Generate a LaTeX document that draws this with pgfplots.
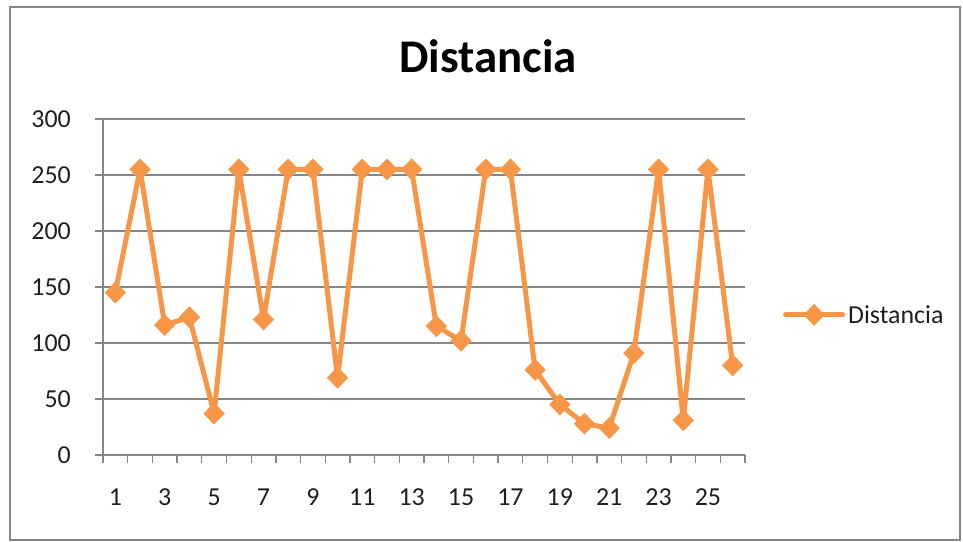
\documentclass[border=0pt]{standalone}
\usepackage{pgfplots}
\pgfplotsset{compat=1.18}
\usepackage{fontspec}
\setmainfont{Carlito}
\definecolor{exorange}{HTML}{F79646}
\definecolor{exgray}{HTML}{868686}
\begin{document}
\begin{tikzpicture}[x=1bp,y=1bp]
\path (0,0) rectangle (963,542);
\draw[exgray, line width=1.5bp] (10,2) rectangle (960,535);
\node[anchor=base, font=\bfseries\fontsize{47}{56}\selectfont] at (488,469) {Distancia};
\begin{axis}[
  at={(103bp,87bp)}, anchor=south west, scale only axis,
  width=642bp, height=336bp,
  xmin=0.5, xmax=26.5, ymin=0, ymax=300,
  axis lines*=left,
  axis line style={exgray, line width=1.3bp},
  ytick={0,50,...,300},
  ymajorgrids, grid style={exgray, line width=1.3bp},
  xtick={0.5,1.5,...,26.5}, xticklabels={},
  extra x ticks={1,3,...,25},
  extra x tick style={major tick length=0pt, grid=none},
  tick align=outside, major tick length=8bp,
  tick style={exgray, line width=1.3bp},
  /pgf/number format/assume math mode=true,
  tick label style={font=\fontsize{26}{31}\selectfont, text=black!88, inner sep=0pt},
  xticklabel style={anchor=base, yshift=-51bp},
  yticklabel style={anchor=east, xshift=-24bp},
  legend style={at={(axis description cs:1.059,0.417)}, anchor=west, draw=none, fill=none,
    inner sep=0pt, font=\fontsize{26}{31}\selectfont, text=black!88, nodes={inner sep=3bp}},
  legend image code/.code={\draw[mark repeat=2,mark phase=2,#1] plot coordinates {(0bp,0bp) (28.5bp,0bp) (57bp,0bp)};},
  clip=false,
]
\addplot[exorange, line width=5bp, line join=round, line cap=round, mark=diamond*, mark size=10.5bp,
  mark options={solid, fill=exorange, line width=0.5bp, line join=miter, xscale=1.3}]
  coordinates {
  (1,145) (2,255) (3,116) (4,123) (5,37) (6,255) (7,121) (8,255) (9,255)
  (10,69) (11,255) (12,255) (13,255) (14,115) (15,102) (16,255) (17,255)
  (18,76) (19,45) (20,28) (21,24) (22,91) (23,255) (24,31) (25,255) (26,80)
  };
\addlegendentry{Distancia}
\end{axis}
\end{tikzpicture}
\end{document}
